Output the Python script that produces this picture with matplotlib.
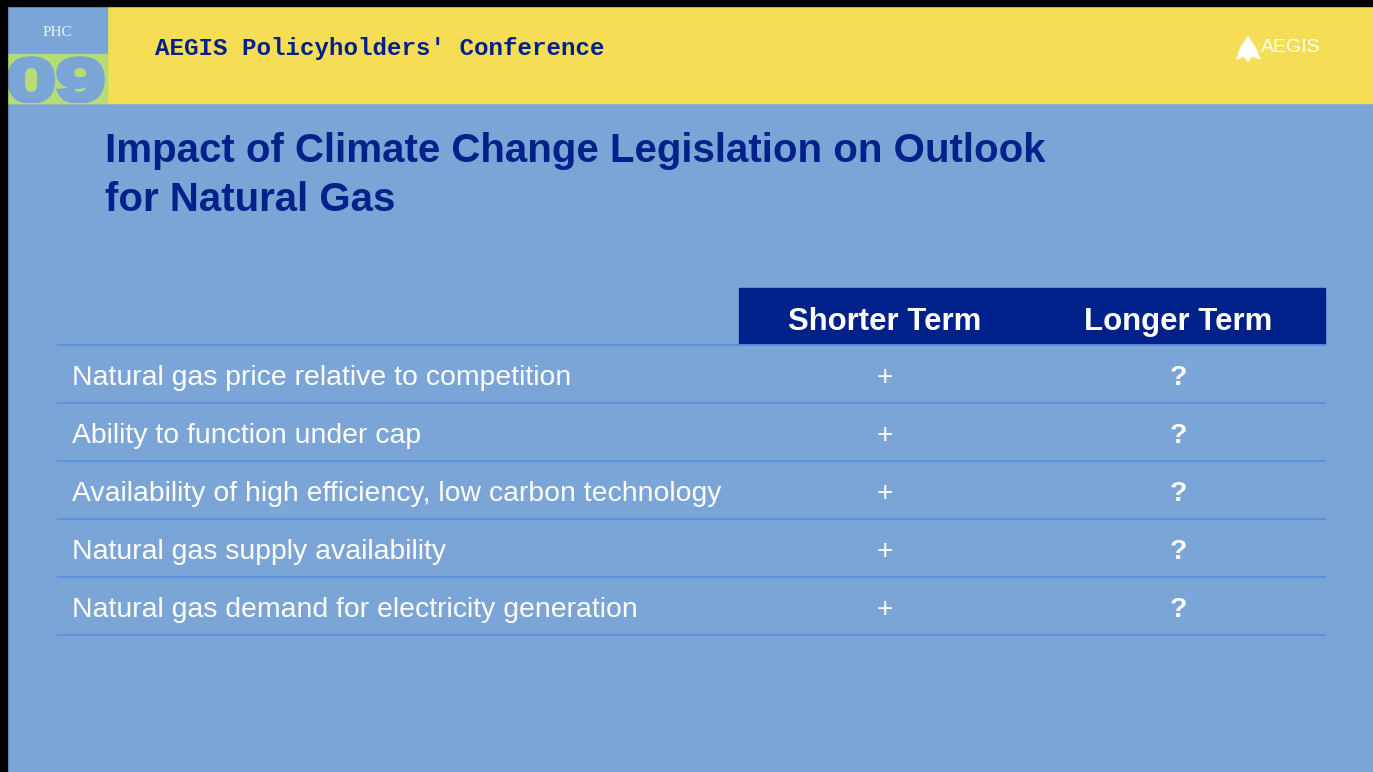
import matplotlib.pyplot as plt
from matplotlib.patches import Rectangle, Polygon, PathPatch
from matplotlib.textpath import TextPath
from matplotlib.font_manager import FontProperties
from matplotlib.transforms import Affine2D

# table content
factors = [
    'Natural gas price relative to competition',
    'Ability to function under cap',
    'Availability of high efficiency, low carbon technology',
    'Natural gas supply availability',
    'Natural gas demand for electricity generation',
]
columns = ['Shorter Term', 'Longer Term']
shorter_term = ['+', '+', '+', '+', '+']
longer_term = ['?', '?', '?', '?', '?']

title_lines = ['Impact of Climate Change Legislation on Outlook', 'for Natural Gas']
conference = "AEGIS Policyholders' Conference"

bg = '#7ba5d7'
yellow = '#f5de55'
navy = '#00218a'
rule = '#5a8ede'
green = '#b5dc78'
sans = ['Liberation Sans', 'DejaVu Sans']

W, H = 1373, 772
fig = plt.figure(figsize=(13.73, 7.72), dpi=100)
fig.patch.set_facecolor(bg)
ax = fig.add_axes([0, 0, 1, 1])
ax.set_xlim(0, W)
ax.set_ylim(H, 0)
ax.axis('off')

# slide frame and header band
ax.add_patch(Rectangle((0, 0), W, 6, color='black', zorder=5))
ax.add_patch(Rectangle((0, 0), 7, H, color='black', zorder=5))
ax.add_patch(Rectangle((7, 6), W, 97, color=yellow, zorder=1))
ax.add_patch(Rectangle((7, 6), 100, 48, color=bg, zorder=2))
box = Rectangle((7, 54), 100, 49, color=green, zorder=2)
ax.add_patch(box)
ax.text(57, 33, 'PHC', color='#eef3fa', fontsize=11, family='Liberation Serif',
        ha='center', va='center', zorder=3)

# big "09", stretched to fill the logo box
tp = TextPath((0, 0), '09', size=1, prop=FontProperties(family=sans, weight='bold'))
ext = tp.get_extents()
sx = 92 / ext.width
sy = 42 / ext.height
tr = Affine2D().translate(-ext.x0, -ext.y0).scale(sx, -sy).translate(10, 101)
digits = PathPatch(tr.transform_path(tp), facecolor=bg, edgecolor=bg, lw=4, zorder=3)
ax.add_patch(digits)
digits.set_clip_path(box)

ax.text(155, 48, conference, color=navy, fontsize=17.4, family='Liberation Mono',
        fontweight='bold', ha='left', va='center', zorder=3)
# logo
ax.add_patch(Polygon([(1237, 59), (1241, 47), (1248, 37), (1255, 47), (1260, 59),
                      (1252, 56), (1248, 61), (1244, 56)], color='white', zorder=3))
ax.text(1261, 48, 'AEGIS', color='white', fontsize=14, family=sans,
        ha='left', va='center', zorder=3)

# title
for k, line in enumerate(title_lines):
    ax.text(105, 151 + 49 * k, line, color=navy, fontsize=29, family=sans,
            fontweight='bold', ha='left', va='center')

# table
x0, x1 = 58, 1325
col_x = [885, 1178]
head_top, head_bot = 288, 344
row_h = 58

ax.add_patch(Rectangle((739, head_top), x1 - 739, head_bot - head_top, color=navy, zorder=2))
for cx, name in zip(col_x, columns):
    ax.text(cx, (head_top + head_bot) / 2 + 6, name, color='white', fontsize=22.4,
            family=sans, fontweight='bold', ha='center', va='center', zorder=3)

for i, (f, s, l) in enumerate(zip(factors, shorter_term, longer_term)):
    top = head_bot + 1 + i * row_h
    cy = top + row_h / 2 + 4
    ax.text(72, cy, f, color='white', fontsize=20.4, family=sans,
            ha='left', va='center')
    ax.text(col_x[0], cy, s, color='white', fontsize=20.4, family=sans,
            ha='center', va='center')
    ax.text(col_x[1], cy, l, color='white', fontsize=20.4, family=sans,
            fontweight='bold', ha='center', va='center')

for i in range(len(factors) + 1):
    y = head_bot + 1 + i * row_h
    ax.plot([x0, x1], [y, y], color=rule, lw=1.3, zorder=2)

fig.savefig('out.png', dpi=100, facecolor=bg)
